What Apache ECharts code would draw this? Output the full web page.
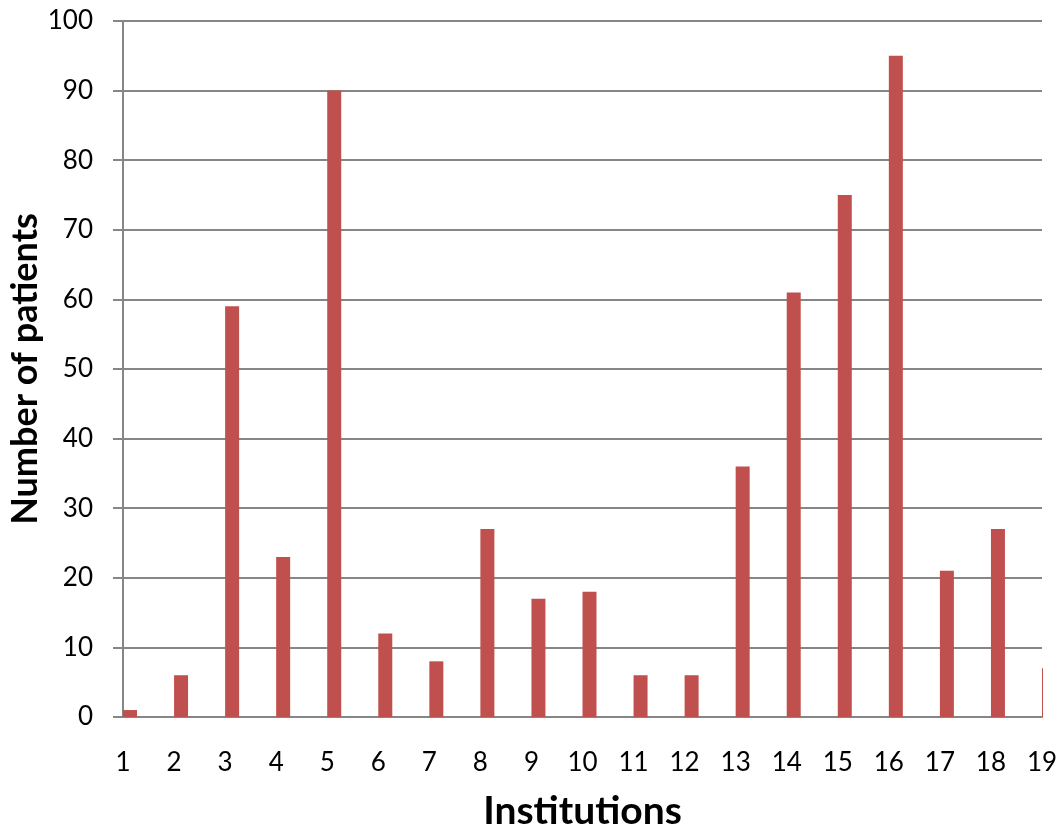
<!DOCTYPE html>
<html><head><meta charset="utf-8">
<script src="https://cdn.jsdelivr.net/npm/echarts@6/dist/echarts.min.js"></script>
<style>html,body{margin:0;padding:0;background:#fff}#c{width:1059px;height:831px}</style>
</head><body><div id="c"></div>
<script>
const categories = ['1','2','3','4','5','6','7','8','9','10','11','12','13','14','15','16','17','18','19'];
const patients = [1, 6, 59, 23, 90, 12, 8, 27, 17, 18, 6, 6, 36, 61, 75, 95, 21, 27, 7];
const yTicks = {min: 0, max: 100, interval: 10};
const xTitle = 'Institutions';
const yTitle = 'Number of patients';

const chart = echarts.init(document.getElementById('c'));
const font = 'Lato, "Open Sans", sans-serif';
chart.setOption({
  animation: false,
  grid: {left: 123, right: 17, top: 21, bottom: 114, containLabel: false, outerBoundsMode: 'none'},
  graphic: [{
    type: 'rect', z: 100, silent: true,
    shape: {x: 1043, y: 0, width: 20, height: 720},
    style: {fill: '#fff'}
  }],
  xAxis: {
    type: 'category', data: categories, boundaryGap: false,
    axisLine: {lineStyle: {color: '#868686', width: 2}},
    axisTick: {show: false},
    axisLabel: {color: '#000', fontSize: 26, fontFamily: font, margin: 33, interval: 0},
    name: xTitle, nameLocation: 'middle', nameGap: 75,
    nameTextStyle: {color: '#000', fontSize: 39, fontWeight: 'bold', fontFamily: font}
  },
  yAxis: {
    type: 'value', min: yTicks.min, max: yTicks.max, interval: yTicks.interval,
    axisLine: {show: true, lineStyle: {color: '#868686', width: 2}},
    axisTick: {show: true, length: 10, lineStyle: {color: '#868686', width: 2}},
    splitLine: {lineStyle: {color: '#868686', width: 2}},
    axisLabel: {color: '#000', fontSize: 26, fontFamily: font, margin: 30},
    name: yTitle, nameLocation: 'middle', nameGap: 80, nameMoveOverlap: false,
    nameTextStyle: {color: '#000', fontSize: 36, fontWeight: 'bold', fontFamily: font}
  },
  series: [
    {type: 'bar', data: patients.map(() => null), barWidth: 14, barGap: '0%', silent: true},
    {type: 'bar', data: patients, barWidth: 14, barGap: '0%', clip: true,
     itemStyle: {color: '#C0504D'}}
  ]
});
</script></body></html>
